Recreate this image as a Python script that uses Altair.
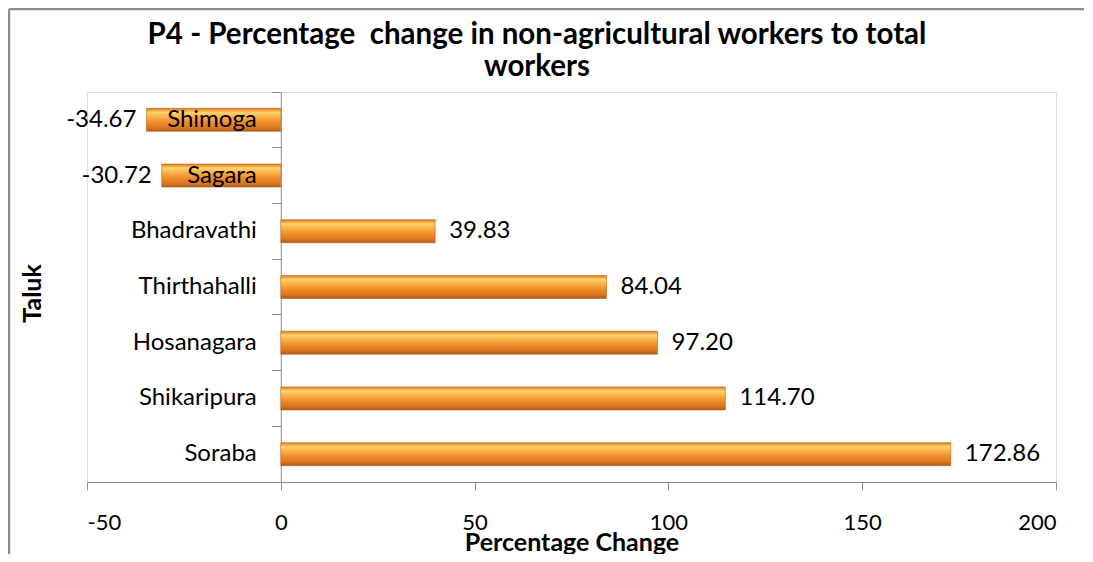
import altair as alt
import pandas as pd

taluks = ["Shimoga", "Sagara", "Bhadravathi", "Thirthahalli", "Hosanagara", "Shikaripura", "Soraba"]
changes = [-34.67, -30.72, 39.83, 84.04, 97.20, 114.70, 172.86]
x_ticks = [-50, 0, 50, 100, 150, 200]
title_lines = ["P4 - Percentage\u00a0 change in non-agricultural workers to total", "workers"]

df = pd.DataFrame({"Taluk": taluks, "Change": changes})

FONT = "Lato"
W, H = 969, 390
PAD = {"left": 79, "top": 84, "right": 28, "bottom": 72}

grad = alt.Gradient(
    gradient="linear", x1=0, x2=0, y1=0, y2=1,
    stops=[
        alt.GradientStop(color="#E07A1A", offset=0.0),
        alt.GradientStop(color="#FFD46A", offset=0.18),
        alt.GradientStop(color="#FBB24C", offset=0.35),
        alt.GradientStop(color="#EE8C2A", offset=0.6),
        alt.GradientStop(color="#D8761F", offset=0.85),
        alt.GradientStop(color="#A85C18", offset=1.0),
    ],
)

xscale = alt.Scale(domain=[-50, 200], nice=False, zero=False)
yscale = alt.Scale(domain=taluks, paddingInner=0, paddingOuter=0)

x_enc = alt.X(
    "Change:Q", scale=xscale,
    axis=alt.Axis(
        values=x_ticks, title="Percentage Change", grid=False,
        domainColor="#8C8C8C", tickColor="#8C8C8C", tickSize=8,
        labelFont=FONT, labelFontSize=22, labelColor="#000000", labelPadding=22,
        labelExpr="replace(datum.label, '\u2212', '-')",
        titleFont=FONT, titleFontSize=25, titleFontWeight="bold", titleColor="#000000",
        titleY=48, titleBaseline="top",
    ),
)
y_enc = alt.Y(
    "Taluk:N", scale=yscale, sort=taluks,
    axis=alt.Axis(
        labels=False, offset=-193.8, bandPosition=0, tickSize=9,
        domainColor="#8C8C8C", tickColor="#8C8C8C", grid=False,
        title="Taluk", titleFont=FONT, titleFontSize=25, titleFontWeight="bold",
        titleColor="#000000", titleX=-248, titleY=201, titleAngle=270,
        titleAlign="center", titleBaseline="middle",
    ),
)

base = alt.Chart(df).transform_calculate(
    label="replace(format(datum.Change, '.2f'), '\u2212', '-')"
)

bars = base.mark_bar(size=23, color=grad, stroke="#B8641A", strokeWidth=0.6).encode(
    x=x_enc, x2=alt.datum(0), y=y_enc,
)

cat_labels = base.mark_text(align="right", baseline="middle", dx=-24, font=FONT,
                            fontSize=24, color="#000000").encode(
    x=alt.datum(0), y=alt.Y("Taluk:N", scale=yscale, sort=taluks), text="Taluk:N",
)

pos_labels = base.transform_filter("datum.Change >= 0").mark_text(
    align="left", baseline="middle", dx=14, font=FONT, fontSize=24, color="#000000"
).encode(
    x="Change:Q", y=alt.Y("Taluk:N", scale=yscale, sort=taluks), text="label:N",
)

neg_labels = base.transform_filter("datum.Change < 0").mark_text(
    align="right", baseline="middle", dx=-10, font=FONT, fontSize=24, color="#000000"
).encode(
    x="Change:Q", y=alt.Y("Taluk:N", scale=yscale, sort=taluks), text="label:N",
)

one = pd.DataFrame({"k": [0]})
frame_top = alt.Chart(one).mark_rule(stroke="#8C8C8C", strokeWidth=2.5, clip=False).encode(
    x=alt.value(-78), x2=alt.value(W + PAD["right"]), y=alt.value(-83),
)
frame_left = alt.Chart(one).mark_rule(stroke="#8C8C8C", strokeWidth=2.5, clip=False).encode(
    x=alt.value(-78), y=alt.value(-83), y2=alt.value(H + PAD["bottom"]),
)

title = alt.Chart(one).mark_text(
    text=title_lines, align="center", baseline="middle", font=FONT, fontSize=29.5,
    fontWeight="bold", color="#000000", lineHeight=32,
).encode(x=alt.value(450), y=alt.value(-57))

chart = alt.layer(frame_top, frame_left, bars, cat_labels, pos_labels, neg_labels, title).properties(
    width=W, height=H,
    padding=PAD,
    autosize=alt.AutoSizeParams(type="none"),
).configure_view(stroke=None).configure(background="#FFFFFF")

chart.save("out.html", embed_options={"renderer": "svg", "actions": False})
